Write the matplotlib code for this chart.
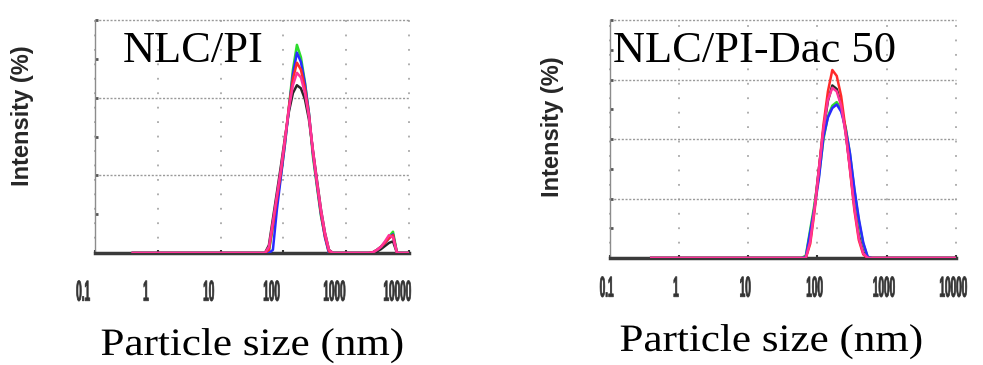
import matplotlib
matplotlib.use("Agg")
import matplotlib.pyplot as plt
from matplotlib import patheffects
from matplotlib.transforms import Affine2D, ScaledTranslation, blended_transform_factory
from matplotlib.ticker import NullLocator

# ---- particle size distributions (intensity %, size in nm) ----
left_sizes = [0.4, 43.82, 50.75, 58.77, 68.06, 78.82, 91.28, 105.7, 122.4, 141.8,
              164.2, 190.1, 220.2, 255.0, 295.3, 342.0, 396.1, 458.7, 531.2, 615.1,
              712.4, 2305, 2669, 3091, 3580, 4145, 4801, 5560, 6439, 7456, 10000]
left_black = [0, 0, 0, 0.5, 2.2, 3.9, 5.6, 7.4, 9.1, 10.3, 10.8, 10.6, 9.9, 8.6, 6.6,
              4.7, 2.8, 1.3, 0.2, 0, 0, 0, 0, 0.1, 0.25, 0.45, 0.65, 0.75, 0, 0, 0]
left_green = [0, 0, 0, 0.1, 1.7, 3.3, 5.0, 7.0, 9.4, 11.8, 13.4, 12.6, 11.0, 9.0, 6.2,
              4.3, 2.4, 1.1, 0, 0, 0, 0, 0.05, 0.2, 0.4, 0.7, 1.05, 1.37, 0, 0, 0]
left_blue = [0, 0, 0, 0, 0.2, 2.8, 4.9, 7.0, 9.3, 11.5, 12.9, 12.3, 10.9, 9.0, 6.4,
             4.4, 2.5, 1.0, 0, 0, 0, 0, 0.05, 0.2, 0.4, 0.65, 0.95, 1.2, 0, 0, 0]
left_red = [0, 0, 0, 0.2, 1.8, 3.5, 5.2, 7.2, 9.4, 11.2, 12.25, 11.8, 10.6, 8.9, 6.5,
            4.5, 2.6, 1.1, 0.1, 0, 0, 0, 0.05, 0.2, 0.4, 0.65, 0.95, 1.15, 0, 0, 0]
left_pink = [0, 0, 0, 0.4, 2.0, 3.7, 5.4, 7.3, 9.3, 10.8, 11.6, 11.3, 10.3, 8.8, 6.6,
             4.6, 2.8, 1.3, 0.2, 0, 0, 0, 0.05, 0.2, 0.4, 0.75, 1.15, 1.0, 0, 0, 0]

right_sizes = [0.4, 50.75, 58.77, 68.06, 78.82, 91.28, 105.7, 122.4, 141.8, 164.2,
               190.1, 220.2, 255.0, 295.3, 342.0, 396.1, 458.7, 531.2, 615.1, 712.4, 10000]
right_black = [0, 0, 0, 0, 1.6, 4.4, 7.6, 10.8, 13.2, 14.5, 14.2, 12.9, 10.6, 7.6,
               4.4, 1.9, 0.5, 0, 0, 0, 0]
right_green = [0, 0, 0, 0.2, 2.4, 4.6, 7.0, 10.0, 11.9, 12.8, 13.1, 12.5, 11.0, 8.7,
               5.7, 3.1, 1.2, 0.1, 0, 0, 0]
right_blue = [0, 0, 0, 0.1, 2.2, 4.3, 6.8, 10.2, 11.8, 12.6, 12.9, 12.3, 10.9, 8.8,
              5.8, 3.3, 1.3, 0.1, 0, 0, 0]
right_red = [0, 0, 0, 0, 1.2, 4.0, 7.6, 11.2, 14.0, 15.8, 15.3, 13.6, 10.8, 7.4,
             4.0, 1.5, 0.3, 0, 0, 0, 0]
right_pink = [0, 0, 0, 0, 1.4, 4.2, 7.6, 10.9, 13.3, 14.3, 14.0, 12.8, 10.5, 7.5,
              4.2, 1.7, 0.4, 0, 0, 0, 0]

x_ticks = [0.1, 1, 10, 100, 1000, 10000]
x_tick_labels = ["0.1", "1", "10", "100", "1000", "10000"]
titles = ["NLC/PI", "NLC/PI-Dac 50"]
x_title = "Particle size (nm)"
y_title = "Intensity (%)"

COLORS = {"black": "#262626", "green": "#2ddc2d", "blue": "#2a2aff",
          "red": "#ff2a2a", "pink": "#ff3399"}


class Condense(patheffects.AbstractPathEffect):
    """Rescale glyph outlines about their centre, optionally thickening strokes."""

    def __init__(self, sx=1.0, sy=1.0, stroke=0.0):
        super().__init__()
        self.sx, self.sy, self.stroke = sx, sy, stroke

    def draw_path(self, renderer, gc, tpath, affine, rgbFace=None):
        ext = tpath.get_extents()
        cx = 0.5 * (ext.x0 + ext.x1)
        cy = 0.5 * (ext.y0 + ext.y1)
        squeeze = Affine2D().translate(-cx, -cy).scale(self.sx, self.sy).translate(cx, cy)
        gc0 = renderer.new_gc()
        gc0.copy_properties(gc)
        if self.stroke > 0 and rgbFace is not None:
            gc0.set_linewidth(self.stroke)
            gc0.set_foreground(rgbFace)
        renderer.draw_path(gc0, tpath, squeeze + affine, rgbFace)
        gc0.restore()


W, H = 983, 365
fig = plt.figure(figsize=(W / 100, H / 100), dpi=100)

panels = [
    dict(rect=(95, 20, 409, 253), ymax=15, ystep=5,
         sizes=left_sizes,
         series=[left_black, left_green, left_blue, left_red, left_pink],
         lab_dx=-12, lab_y=292, ylab=(22, 116),
         title=(123, 62), xt=(252, 356)),
    dict(rect=(609.5, 20, 956, 258), ymax=20, ystep=5,
         sizes=right_sizes,
         series=[right_black, right_green, right_blue, right_red, right_pink],
         lab_dx=-3, lab_y=288, ylab=(553, 127),
         title=(613, 62), xt=(771, 352)),
]
names = ["black", "green", "blue", "red", "pink"]

for i, p in enumerate(panels):
    x0, y0, x1, y1 = p["rect"]
    ax = fig.add_axes([x0 / W, 1 - y1 / H, (x1 - x0) / W, (y1 - y0) / H])
    ax.set_xscale("log")
    ax.set_xlim(0.1, 10000)
    ax.set_ylim(0, p["ymax"])
    ax.set_axisbelow(True)

    for k, (name, vals) in enumerate(zip(names, p["series"])):
        ax.plot(p["sizes"], vals, color=COLORS[name], lw=1.8, zorder=3 + k,
                solid_joinstyle="round")

    # axes frame: solid left/bottom only, grid forms the other edges
    ax.spines["top"].set_visible(False)
    ax.spines["right"].set_visible(False)
    ax.spines["left"].set_color("#8c8c8c")
    ax.spines["left"].set_linewidth(1.0)
    ax.spines["bottom"].set_color("#3a3a3a")
    ax.spines["bottom"].set_linewidth(2.5)

    yt = list(range(0, p["ymax"] + 1, p["ystep"]))
    ax.set_yticks(yt)
    ax.set_yticks([v + p["ystep"] / 2 for v in yt[:-1]], minor=True)
    ax.tick_params(axis="y", which="both", direction="in", length=2.5, width=2,
                   color="#555555", labelleft=False)
    ax.set_xticks(x_ticks)
    ax.xaxis.set_minor_locator(NullLocator())
    ax.tick_params(axis="x", direction="in", length=2.5, width=1.5,
                   color="#333333", labelbottom=False)

    ax.grid(axis="y", which="major", linestyle=(0, (1.5, 1.2)), color="#9a9a9a", lw=1.0)
    ax.grid(axis="x", which="major", linestyle=(0, (1, 7)), color="#a8a8a8", lw=1.3)
    for gl in ax.get_ygridlines() + ax.get_xgridlines():
        gl.set_clip_on(False)

    # tick labels in a tall, narrow instrument font
    off = ScaledTranslation(p["lab_dx"] / 100, 0, fig.dpi_scale_trans)
    lab_tr = blended_transform_factory(ax.transData, fig.transFigure) + off
    for xv, lab in zip(x_ticks, x_tick_labels):
        ax.text(xv, 1 - p["lab_y"] / H, lab, transform=lab_tr,
                ha="center", va="center", fontsize=12, family="Liberation Sans",
                weight="bold", color="#333333",
                path_effects=[Condense(sx=0.6, sy=1.75, stroke=0.5)])

    fig.text(p["ylab"][0] / W, 1 - p["ylab"][1] / H, y_title, rotation=90,
             ha="center", va="center", fontsize=17, weight="bold",
             family="Liberation Sans", color="#262626")
    fig.text(p["title"][0] / W, 1 - p["title"][1] / H, titles[i], ha="left",
             va="baseline", fontsize=32, family="Liberation Serif", color="black")
    fig.text(p["xt"][0] / W, 1 - p["xt"][1] / H, x_title, ha="center",
             va="baseline", fontsize=31, family="Liberation Serif", color="black",
             path_effects=[Condense(sx=1.0, sy=0.9)])

fig.savefig("out.png", dpi=100)
